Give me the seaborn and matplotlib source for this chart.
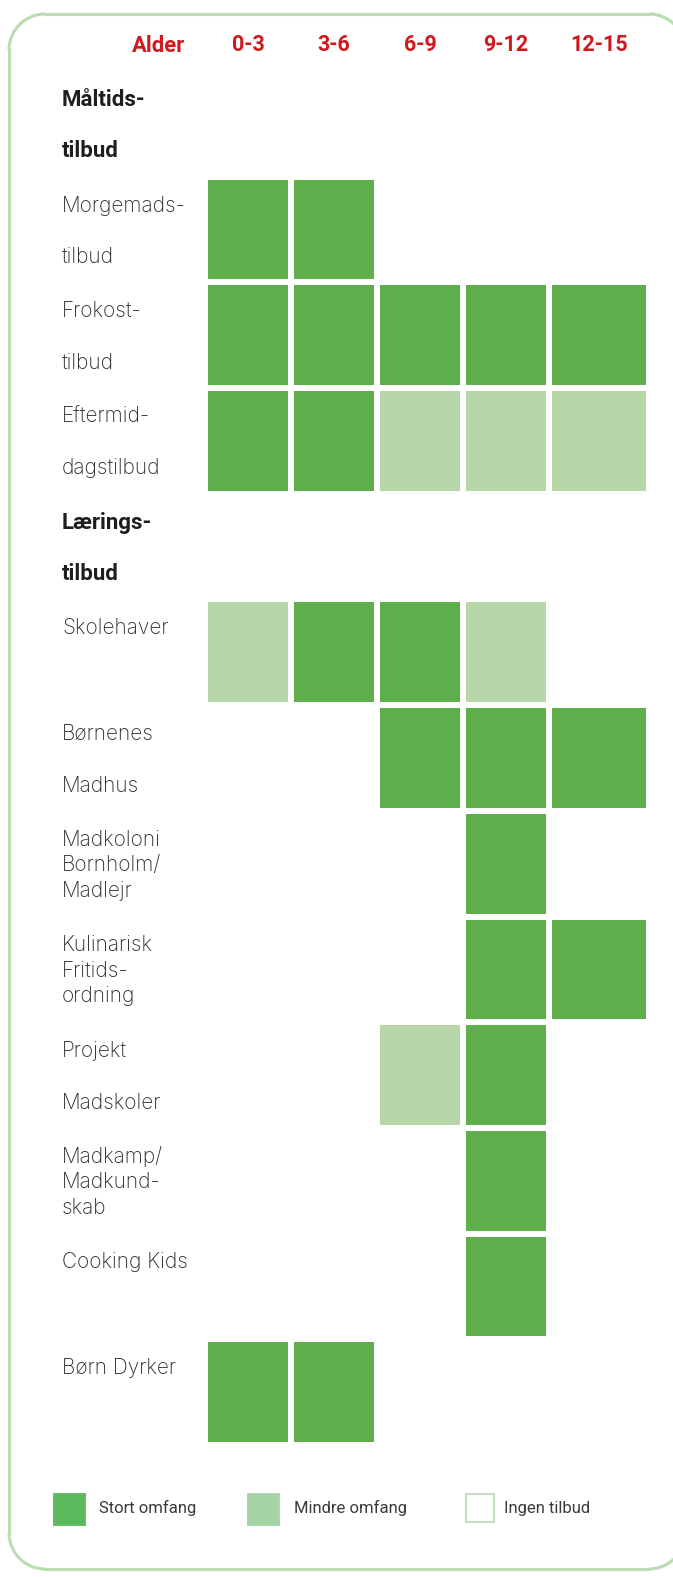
import numpy as np
import pandas as pd
import seaborn as sns
import matplotlib.pyplot as plt
from matplotlib.colors import ListedColormap
from matplotlib.patches import Rectangle, Arc
from matplotlib.transforms import blended_transform_factory

# --- data ---
ages = ['0-3', '3-6', '6-9', '9-12', '12-15']
rows = ['Måltids-\ntilbud', 'Morgemads-\ntilbud', 'Frokost-\ntilbud',
        'Eftermid-\ndagstilbud', 'Lærings-\ntilbud', 'Skolehaver',
        'Børnenes\nMadhus', 'Madkoloni\nBornholm/\nMadlejr',
        'Kulinarisk\nFritids-\nordning', 'Projekt\nMadskoler',
        'Madkamp/\nMadkund-\nskab', 'Cooking Kids', 'Børn Dyrker']
section_rows = ['Måltids-\ntilbud', 'Lærings-\ntilbud']

# 0 = ingen tilbud, 1 = mindre omfang, 2 = stort omfang
age_0_3   = [0, 2, 2, 2, 0, 1, 0, 0, 0, 0, 0, 0, 2]
age_3_6   = [0, 2, 2, 2, 0, 2, 0, 0, 0, 0, 0, 0, 2]
age_6_9   = [0, 0, 2, 1, 0, 2, 2, 0, 0, 1, 0, 0, 0]
age_9_12  = [0, 0, 2, 1, 0, 1, 2, 2, 2, 2, 2, 2, 0]
age_12_15 = [0, 0, 2, 1, 0, 0, 2, 0, 2, 0, 0, 0, 0]

legend_labels = ['Stort omfang', 'Mindre omfang', 'Ingen tilbud']

df = pd.DataFrame({'0-3': age_0_3, '3-6': age_3_6, '6-9': age_6_9,
                   '9-12': age_9_12, '12-15': age_12_15}, index=rows)

RED = '#d0191f'
STRONG = '#5fb04c'
LIGHT = '#b7d7a8'
BORDER = '#b9dcb1'
cmap = ListedColormap(['#ffffff', LIGHT, STRONG])

sns.set_style('white')
plt.rcParams['font.family'] = ['Roboto', 'DejaVu Sans']

W, H = 673, 1577
fig = plt.figure(figsize=(W / 100, H / 100), dpi=100)

def fx(px):
    return px / W

def fy(py):
    return 1 - py / H

# background axes in pixel units for the rounded frame;
# its right side lies past the edge of the picture
bg = fig.add_axes([0, 0, 1, 1], zorder=-1)
bg.set_xlim(0, W)
bg.set_ylim(H, 0)
bg.axis('off')
fl, ft, fr, fb, r = 9, 14, 685, 1569, 36
kw = dict(color=BORDER, linewidth=2.2)
bg.plot([fl + r, fr - r], [ft, ft], **kw)
bg.plot([fl + r, fr - r], [fb, fb], **kw)
bg.plot([fl, fl], [ft + r, fb - r], **kw)
for cx, cy, t1, t2 in ((fl + r, ft + r, 180, 270), (fr - r, ft + r, 270, 360),
                       (fl + r, fb - r, 90, 180), (fr - r, fb - r, 0, 90)):
    bg.add_patch(Arc((cx, cy), 2 * r, 2 * r, theta1=t1, theta2=t2,
                     edgecolor=BORDER, linewidth=2.2))

top, bottom = 71, 1445
# first four age groups share a width, the last column is a bit wider
axL = fig.add_axes([fx(205), fy(bottom), fx(549) - fx(205), fy(top) - fy(bottom)])
axR = fig.add_axes([fx(549), fy(bottom), fx(649) - fx(549), fy(top) - fy(bottom)])

for ax, cols in ((axL, ages[:4]), (axR, ages[4:])):
    sns.heatmap(df[cols], ax=ax, cmap=cmap, vmin=-0.5, vmax=2.5, cbar=False,
                linewidths=4.3, linecolor='white')
    ax.xaxis.tick_top()
    ax.tick_params(axis='x', length=0, pad=10.5)
    ax.set_xticklabels(cols, rotation=0, color=RED, fontsize=15.5,
                       fontweight='bold')
    ax.set_yticks([])
    ax.set_xlabel('')
    ax.set_ylabel('')
    for s in ax.spines.values():
        s.set_visible(False)

fig.text(fx(159), fy(51.7), 'Alder', ha='center', va='baseline', color=RED,
         fontsize=15.8, fontweight='bold')

# row labels, placed per row in the heatmap's data coordinates
tr = blended_transform_factory(fig.transFigure, axL.transData)
for i, label in enumerate(rows):
    lines = label.split('\n')
    step = 0.487 if len(lines) == 2 else 0.241
    bold = label in section_rows
    for j, line in enumerate(lines):
        if bold:
            axL.text(fx(62), i + 0.33 + j * step, line, transform=tr,
                     ha='left', va='baseline', color='#1e1e1e', fontsize=16,
                     fontweight='bold', clip_on=False)
        else:
            axL.text(fx(62), i + 0.33 + j * step, line, transform=tr,
                     ha='left', va='baseline', color='#2e2e2e', fontsize=15,
                     family=['Inter', 'Roboto', 'DejaVu Sans'],
                     fontweight='light', clip_on=False)

# legend
legend_x = [54, 248, 466]
legend_tx = [99, 294, 504]
legend_fc = ['#5cb85c', '#a5d4a5', 'white']
legend_ec = ['#5cb85c', '#a5d4a5', BORDER]
for lab, x0, tx, fc, ec in zip(legend_labels, legend_x, legend_tx, legend_fc, legend_ec):
    size = 31 if fc != 'white' else 28
    fig.add_artist(Rectangle((fx(x0), fy(1494 + size)), fx(size), size / H,
                             transform=fig.transFigure, facecolor=fc,
                             edgecolor=ec, linewidth=1.3))
    fig.text(fx(tx), fy(1513.5), lab, ha='left', va='baseline', color='#3a3a3a',
             fontsize=12)

fig.savefig('out.png', dpi=100)
